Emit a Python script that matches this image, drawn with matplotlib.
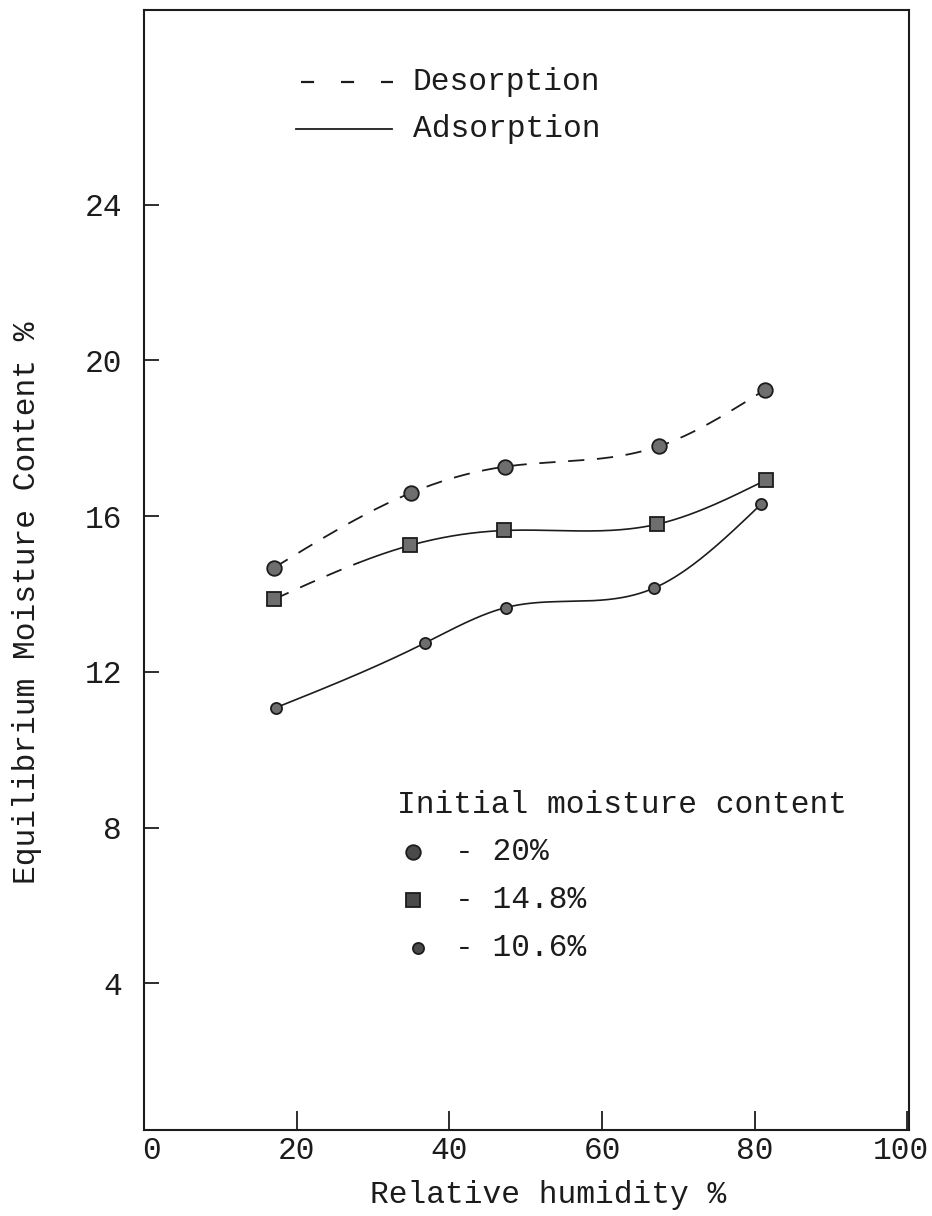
import numpy as np
import matplotlib
matplotlib.use("Agg")
import matplotlib.pyplot as plt
import matplotlib.transforms as mtransforms

plt.rcParams['font.family'] = ['Liberation Mono', 'DejaVu Sans Mono']

# initial moisture content of each lot, %
initial_mc = [20.0, 14.8, 10.6]
legend_labels = ["20%", "14.8%", "10.6%"]

# relative humidity % / equilibrium moisture content % per lot
rh_20 = [17.0, 35.0, 47.3, 67.4, 81.3]
emc_20 = [14.67, 16.60, 17.27, 17.79, 19.24]
rh_148 = [17.0, 34.9, 47.2, 67.2, 81.5]
emc_148 = [13.86, 15.25, 15.63, 15.79, 16.93]
rh_106 = [17.3, 36.8, 47.4, 66.8, 80.8]
emc_106 = [11.08, 12.74, 13.65, 14.15, 16.30]

x_ticks = [0, 20, 40, 60, 80, 100]
y_ticks = [4, 8, 12, 16, 20, 24]

INK = '#1c1c1c'
FS = 22.5


def natural_spline(x, y, n=400):
    # smooth curve through the measured points (natural cubic spline)
    x = np.asarray(x, float)
    y = np.asarray(y, float)
    k = len(x)
    h = np.diff(x)
    A = np.zeros((k, k))
    b = np.zeros(k)
    A[0, 0] = A[-1, -1] = 1
    for i in range(1, k - 1):
        A[i, i - 1] = h[i - 1]
        A[i, i] = 2 * (h[i - 1] + h[i])
        A[i, i + 1] = h[i]
        b[i] = 6 * ((y[i + 1] - y[i]) / h[i] - (y[i] - y[i - 1]) / h[i - 1])
    m = np.linalg.solve(A, b)
    xs = np.linspace(x[0], x[-1], n)
    j = np.clip(np.searchsorted(x, xs) - 1, 0, k - 2)
    t0 = xs - x[j]
    t1 = x[j + 1] - xs
    hj = h[j]
    ys = ((m[j] * t1 ** 3 + m[j + 1] * t0 ** 3) / (6 * hj)
          + (y[j] / hj - m[j] * hj / 6) * t1
          + (y[j + 1] / hj - m[j + 1] * hj / 6) * t0)
    return xs, ys


fig = plt.figure(figsize=(9.32, 12.16), dpi=100)
ax = fig.add_axes([144 / 932, 86 / 1216, 765 / 932, 1120 / 1216])

series = [(rh_20, emc_20, 'o', 10.5), (rh_148, emc_148, 's', 9.5), (rh_106, emc_106, 'o', 8)]
dash = (0, (9, 7))

for (rh, emc, mk, ms), mc in zip(series, initial_mc):
    xs, ys = natural_spline(rh, emc)
    # below the initial moisture content the sample dries -> desorption (dashed)
    desorb = ys < mc
    grow = desorb.copy()
    grow[1:] |= desorb[:-1]
    ax.plot(xs, np.where(grow, ys, np.nan), color=INK, lw=1.3, linestyle=dash, zorder=2)
    ax.plot(xs, np.where(~desorb, ys, np.nan), color=INK, lw=1.2, zorder=2)
    ax.plot(rh, emc, linestyle='none', marker=mk, ms=ms, mfc='#6e6e6e', mec=INK, mew=1.3, zorder=3)

ax.set_xlim(0.3, 100.2)
ax.set_ylim(0.23, 29.0)
ax.set_xticks(x_ticks)
ax.set_yticks(y_ticks)
ax.tick_params(axis='x', direction='in', length=14, width=1.3, pad=4, labelsize=FS, colors=INK)
ax.tick_params(axis='y', direction='in', length=11, width=1.3, pad=16, labelsize=FS, colors=INK)
for s in ax.spines.values():
    s.set_linewidth(1.5)
    s.set_color(INK)

# nudge the end labels of the x axis
xlabels = ax.get_xticklabels()
xlabels[0].set_transform(xlabels[0].get_transform()
                         + mtransforms.ScaledTranslation(7 / 100, 0, fig.dpi_scale_trans))
xlabels[-1].set_transform(xlabels[-1].get_transform()
                          + mtransforms.ScaledTranslation(-7 / 100, 0, fig.dpi_scale_trans))

ax.text(0.528, -0.058, 'Relative humidity %', transform=ax.transAxes, ha='center', va='center',
        fontsize=FS, color=INK)
ax.text(-0.153, 0.471, 'Equilibrium Moisture Content %', transform=ax.transAxes, ha='center',
        va='center', rotation=90, fontsize=FS, color=INK)

# line style key
ax.plot([0.2055, 0.3255], [0.9357, 0.9357], transform=ax.transAxes, color=INK, lw=1.6,
        linestyle=(0, (5.9, 12.1)), clip_on=False)
ax.text(0.3516, 0.9357, 'Desorption', transform=ax.transAxes, va='center', fontsize=FS, color=INK)
ax.plot([0.1987, 0.324], [0.8938, 0.8938], transform=ax.transAxes, color=INK, lw=1.3)
ax.text(0.3516, 0.8938, 'Adsorption', transform=ax.transAxes, va='center', fontsize=FS, color=INK)

# marker key
ax.text(0.3307, 0.2902, 'Initial moisture content', transform=ax.transAxes, va='center',
        fontsize=FS, color=INK)
key_y = [0.2482, 0.2054, 0.1625]
key_x = [0.3516, 0.3516, 0.358]
for (rh, emc, mk, ms), lab, kx, ky in zip(series, legend_labels, key_x, key_y):
    ax.plot([kx], [ky], transform=ax.transAxes, marker=mk, ms=ms, mfc='#4a4a4a', mec=INK, mew=1.3)
    ax.text(0.4065, ky, '- ' + lab, transform=ax.transAxes, va='center', fontsize=FS, color=INK)

fig.savefig('out.png', dpi=100, facecolor='white')
